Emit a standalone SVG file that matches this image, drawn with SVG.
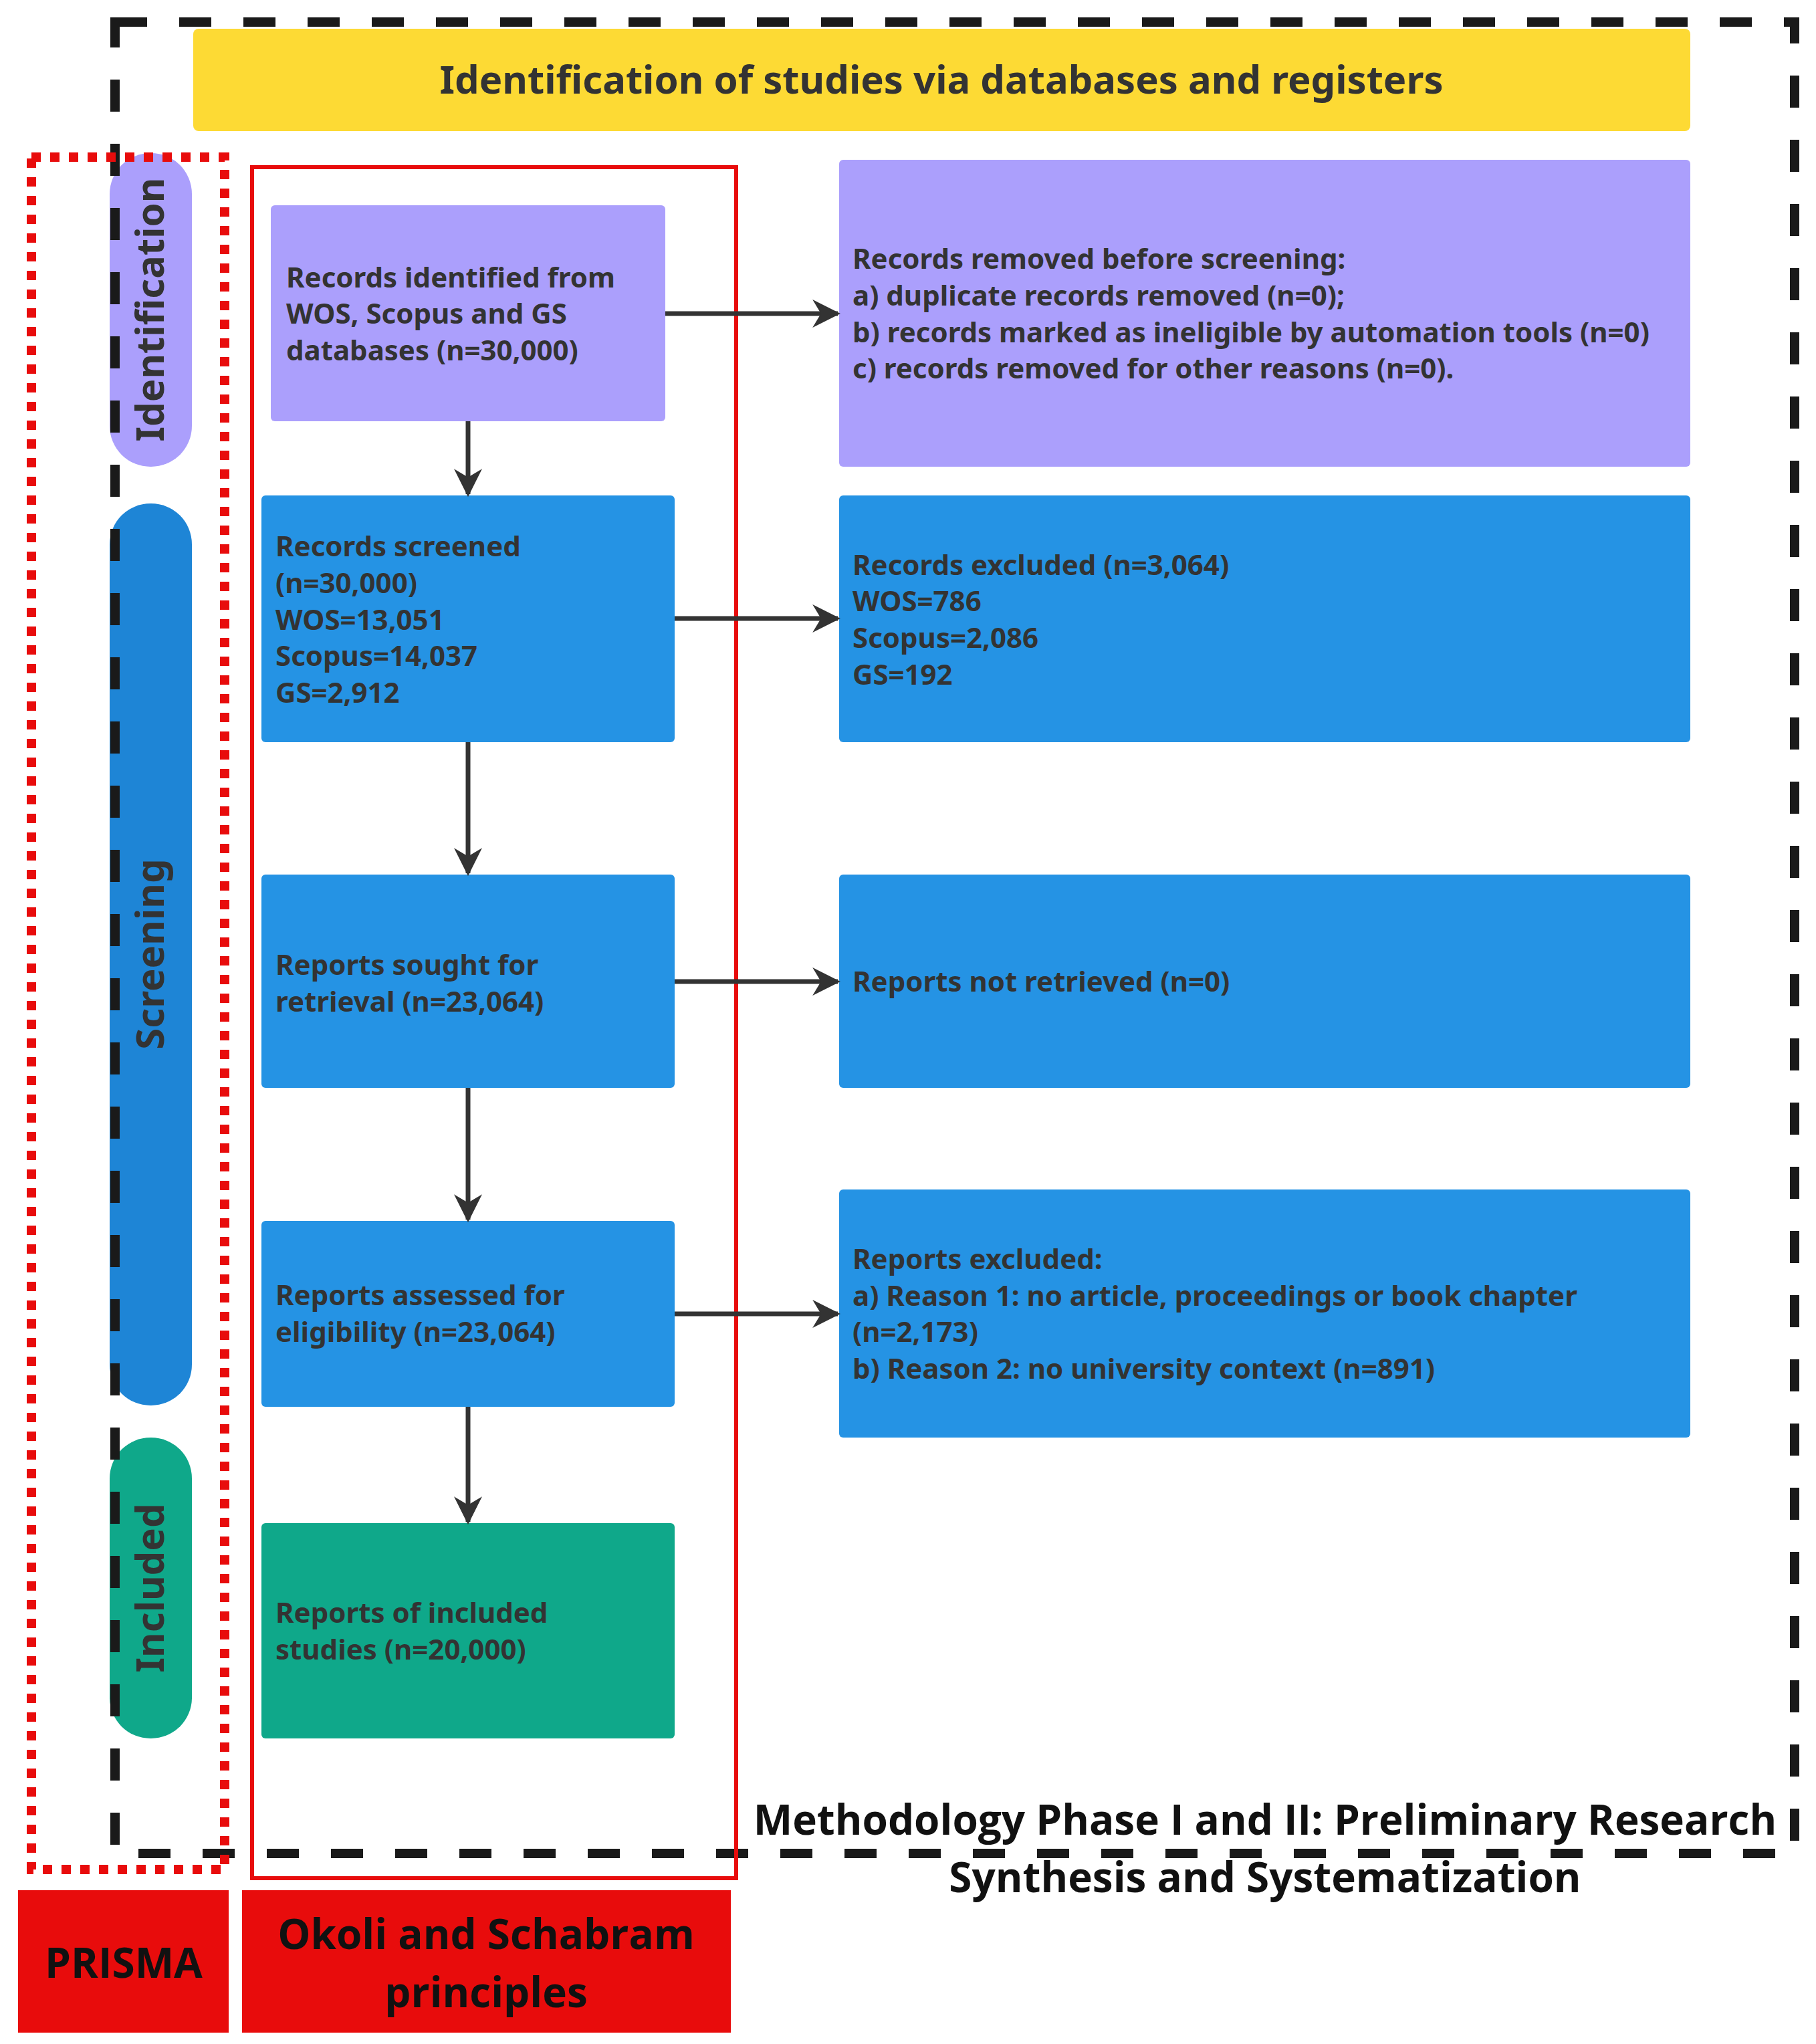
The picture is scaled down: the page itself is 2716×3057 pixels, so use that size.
<svg xmlns="http://www.w3.org/2000/svg" width="2716" height="3057" viewBox="0 0 2716 3057">
<defs>
<marker id="ah" viewBox="0 0 10 10" refX="9" refY="5" markerWidth="6" markerHeight="6" orient="auto" markerUnits="strokeWidth"><path d="M0,0 L10,5 L0,10 L3,5 Z" fill="#333"/></marker>
<style>
.t{font-family:"Noto Sans","Liberation Sans",sans-serif;font-weight:700;font-size:42px;fill:#333}
.pill{font-family:"Noto Sans","Liberation Sans",sans-serif;font-weight:700;font-size:58px;fill:#333;text-anchor:middle}
.big{font-family:"Open Sans","Liberation Sans",sans-serif;font-weight:700;fill:#111;text-anchor:middle}
.c{stroke:#333;stroke-width:7;fill:none;marker-end:url(#ah)}
</style>
</defs>
<rect width="2716" height="3057" fill="#fff"/>
<g id="yellow-header"><rect x="289" y="43" width="2239" height="153" rx="8" fill="#fdda34"/><text class="t" x="1408" y="140" text-anchor="middle" style="font-size:58px">Identification of studies via databases and registers</text></g>
<g id="pill-identification"><rect x="164" y="229" width="123" height="469" rx="61" fill="#ab9ffc"/><text class="pill" transform="translate(245,463) rotate(-90)">Identification</text></g>
<g id="pill-screening"><rect x="164" y="753" width="123" height="1349" rx="61" fill="#1e85d6"/><text class="pill" transform="translate(245,1427) rotate(-90)">Screening</text></g>
<g id="pill-included"><rect x="164" y="2150" width="123" height="450" rx="61" fill="#0fa88a"/><text class="pill" transform="translate(245,2375) rotate(-90)">Included</text></g>
<g id="outer-dashed"><rect x="172" y="33" width="2512" height="2739" fill="none" stroke="#1a1a1a" stroke-width="14" stroke-dasharray="48 48"/></g>
<g id="prisma-dotted"><rect x="47" y="235" width="289" height="2561" fill="none" stroke="#e80c0c" stroke-width="14" stroke-dasharray="14 14"/></g>
<g id="okoli-frame"><rect x="377" y="250" width="724" height="2559" fill="none" stroke="#e80c0c" stroke-width="6"/></g>
<g id="n-identified"><rect x="405" y="307" width="590" height="323" rx="6" fill="#ab9ffc"/><text class="t" x="428"><tspan x="428" y="430">Records identified from</tspan><tspan x="428" y="484">WOS, Scopus and GS</tspan><tspan x="428" y="539">databases (n=30,000)</tspan></text></g>
<g id="n-screened"><rect x="391" y="741" width="618" height="369" rx="6" fill="#2593e4"/><text class="t"><tspan x="412" y="832">Records screened</tspan><tspan x="412" y="887">(n=30,000)</tspan><tspan x="412" y="942">WOS=13,051</tspan><tspan x="412" y="996">Scopus=14,037</tspan><tspan x="412" y="1051">GS=2,912</tspan></text></g>
<g id="n-sought"><rect x="391" y="1308" width="618" height="319" rx="6" fill="#2593e4"/><text class="t"><tspan x="412" y="1458">Reports sought for</tspan><tspan x="412" y="1513">retrieval (n=23,064)</tspan></text></g>
<g id="n-assessed"><rect x="391" y="1826" width="618" height="278" rx="6" fill="#2593e4"/><text class="t"><tspan x="412" y="1952">Reports assessed for</tspan><tspan x="412" y="2007">eligibility (n=23,064)</tspan></text></g>
<g id="n-included"><rect x="391" y="2278" width="618" height="322" rx="6" fill="#0fa88a"/><text class="t"><tspan x="412" y="2427">Reports of included</tspan><tspan x="412" y="2482">studies (n=20,000)</tspan></text></g>
<g id="n-removed"><rect x="1255" y="239" width="1273" height="459" rx="6" fill="#ab9ffc"/><text class="t"><tspan x="1275" y="402">Records removed before screening:</tspan><tspan x="1275" y="457">a) duplicate records removed  (n=0);</tspan><tspan x="1275" y="512">b) records marked as ineligible by automation tools (n=0)</tspan><tspan x="1275" y="566">c) records removed for other reasons (n=0).</tspan></text></g>
<g id="n-excluded"><rect x="1255" y="741" width="1273" height="369" rx="6" fill="#2593e4"/><text class="t"><tspan x="1275" y="860">Records excluded (n=3,064)</tspan><tspan x="1275" y="914">WOS=786</tspan><tspan x="1275" y="969">Scopus=2,086</tspan><tspan x="1275" y="1024">GS=192</tspan></text></g>
<g id="n-notretrieved"><rect x="1255" y="1308" width="1273" height="319" rx="6" fill="#2593e4"/><text class="t" x="1275" y="1483">Reports not retrieved (n=0)</text></g>
<g id="n-repexcluded"><rect x="1255" y="1779" width="1273" height="371" rx="6" fill="#2593e4"/><text class="t"><tspan x="1275" y="1898">Reports excluded:</tspan><tspan x="1275" y="1953">a) Reason 1: no article, proceedings or book chapter</tspan><tspan x="1275" y="2007">(n=2,173)</tspan><tspan x="1275" y="2062">b) Reason 2: no university context (n=891)</tspan></text></g>
<g id="connectors">
<line class="c" x1="700" y1="630" x2="700" y2="739"/>
<line class="c" x1="700" y1="1110" x2="700" y2="1306"/>
<line class="c" x1="700" y1="1627" x2="700" y2="1824"/>
<line class="c" x1="700" y1="2104" x2="700" y2="2276"/>
<line class="c" x1="995" y1="469" x2="1253" y2="469"/>
<line class="c" x1="1009" y1="925" x2="1253" y2="925"/>
<line class="c" x1="1009" y1="1468" x2="1253" y2="1468"/>
<line class="c" x1="1009" y1="1965" x2="1253" y2="1965"/>
</g>
<g id="methodology-label"><text class="big" x="1892" y="2744" style="font-size:62px">Methodology Phase I and II: Preliminary Research</text><text class="big" x="1892" y="2830" style="font-size:62px">Synthesis and Systematization</text></g>
<g id="prisma-label"><rect x="27" y="2827" width="315" height="213" fill="#e80c0c"/><text class="big" x="185" y="2958" style="font-size:62px">PRISMA</text></g>
<g id="okoli-label"><rect x="362" y="2827" width="731" height="213" fill="#e80c0c"/><text class="big" x="727" y="2915" style="font-size:62px">Okoli and Schabram</text><text class="big" x="727" y="3002" style="font-size:62px">principles</text></g>
</svg>
